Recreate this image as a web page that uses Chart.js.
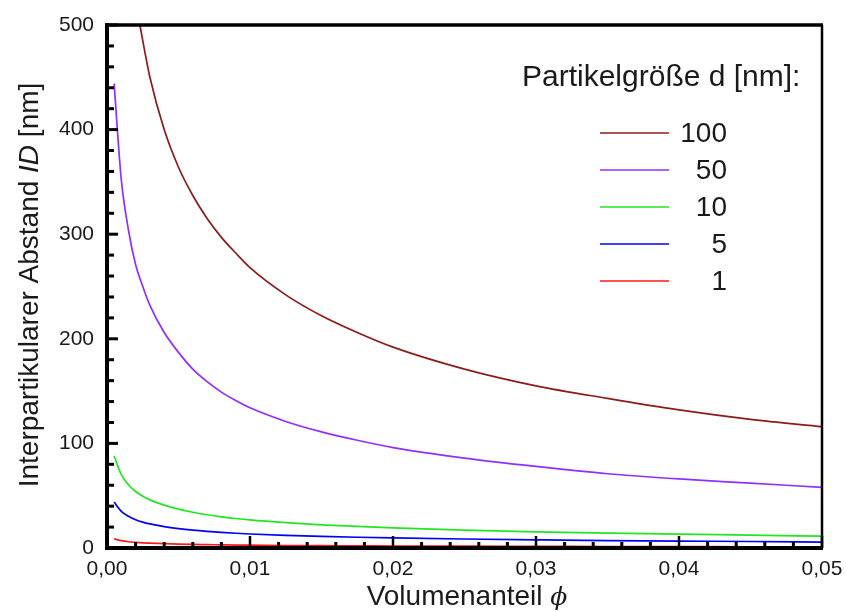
<!DOCTYPE html>
<html>
<head>
<meta charset="utf-8">
<script src="https://cdn.jsdelivr.net/npm/chart.js@4"></script>
<style>
    html, body {margin: 0; padding: 0; background: #fff;}
    #wrap {width: 846px; height: 612px;}
</style>
</head>
<body>
<div id="wrap"><canvas id="c"></canvas></div>
<script>
// volume fraction (x) and interparticle distance ID [nm]
var phi = [0.0005, 0.00075, 0.001, 0.0015, 0.002, 0.0025, 0.003, 0.004, 0.005, 0.006, 0.007, 0.008, 0.009,
    0.01, 0.0125, 0.015, 0.0175, 0.02, 0.025, 0.03, 0.035, 0.04, 0.045, 0.05];
var phi100 = [0.0023, 0.0025, 0.003, 0.004, 0.005, 0.006, 0.007, 0.008, 0.009,
    0.01, 0.0125, 0.015, 0.0175, 0.02, 0.025, 0.03, 0.035, 0.04, 0.045, 0.05];
var id100 = [500, 485, 450, 400, 364, 337, 315, 297, 282, 268, 242, 222, 206, 192, 171, 155, 143, 132, 123, 116];
var id50 = [444, 395, 352, 304, 271, 250, 232, 206, 187, 171, 159, 149, 141, 134, 121, 111, 103, 96, 86, 78, 71, 66, 62, 58];
var id10 = [88, 78.5, 70.2, 60.5, 54, 49.5, 46, 41, 37.2, 34.2, 31.8, 29.8, 28.2, 26.8, 24.2, 22.2, 20.6, 19.2, 17.1, 15.5, 14.3, 13.2, 12.3, 11.3];
var id5 = [44, 39.2, 35.1, 30.3, 27, 24.7, 23, 20.5, 18.6, 17.1, 15.9, 14.9, 14.1, 13.4, 12.1, 11.1, 10.3, 9.6, 8.6, 7.8, 7.1, 6.6, 6.2, 5.6];
var id1 = [8.8, 7.8, 7.0, 6.0, 5.4, 4.9, 4.6, 4.1, 3.7, 3.4, 3.2, 3.0, 2.8, 2.7, 2.4, 2.2, 2.1, 1.9, 1.7, 1.6, 1.4, 1.3, 1.2, 1.2];

var sizeLabels = ['100', '50', '10', '5', '1'];
var sizeColors = ['#8b1c1c', '#9030ff', '#22e622', '#0000ff', '#ff1a1a'];
var xTicks = [0, 0.01, 0.02, 0.03, 0.04, 0.05];
var yTicks = [0, 100, 200, 300, 400, 500];

var FONT = '"Liberation Sans", Arial, sans-serif';

function toPoints(xs, ys) {
    return ys.map(function (y, i) {
        return {x: xs[i], y: y};
    });
}

var seriesData = [toPoints(phi100, id100), toPoints(phi, id50), toPoints(phi, id10), toPoints(phi, id5), toPoints(phi, id1)];

var datasets = seriesData.map(function (pts, i) {
    return {
        label: sizeLabels[i],
        data: pts,
        showLine: true,
        borderColor: sizeColors[i],
        backgroundColor: sizeColors[i],
        borderWidth: 1.7,
        pointRadius: 0,
        cubicInterpolationMode: 'monotone'
    };
});

// frame, inward ticks, axis titles and the legend block
var decorPlugin = {
    id: 'decor',
    afterDatasetsDraw: function (chart) {
        var ctx = chart.ctx;
        var a = chart.chartArea;
        var xs = chart.scales.x, ys = chart.scales.y;
        ctx.save();
        ctx.strokeStyle = '#000';
        ctx.lineCap = 'butt';

        // minor / major ticks on the y axis
        var v, p;
        for (v = 0; v <= 500; v += 20) {
            p = ys.getPixelForValue(v);
            ctx.lineWidth = 3;
            ctx.beginPath();
            ctx.moveTo(a.left, p);
            ctx.lineTo(a.left + (v % 100 === 0 ? 11 : 7), p);
            ctx.stroke();
        }
        // ticks on the x axis
        for (var k = 0; k <= 25; k++) {
            p = xs.getPixelForValue(k * 0.002);
            var major = k % 5 === 0;
            ctx.lineWidth = major ? 2.5 : 3;
            ctx.beginPath();
            ctx.moveTo(p, a.bottom);
            ctx.lineTo(p, a.bottom - (major ? 12 : 6));
            ctx.stroke();
        }

        // frame
        ctx.lineWidth = 4;
        ctx.beginPath();
        ctx.moveTo(a.left, a.top - 2);
        ctx.lineTo(a.left, a.bottom);
        ctx.moveTo(a.left - 2, a.bottom);
        ctx.lineTo(a.right + 1, a.bottom);
        ctx.stroke();
        ctx.lineWidth = 3.5;
        ctx.beginPath();
        ctx.moveTo(a.left, a.top);
        ctx.lineTo(a.right + 1, a.top);
        ctx.stroke();
        ctx.lineWidth = 2.5;
        ctx.beginPath();
        ctx.moveTo(a.right, a.top);
        ctx.lineTo(a.right, a.bottom);
        ctx.stroke();

        ctx.fillStyle = '#1a1a1a';
        ctx.textBaseline = 'alphabetic';

        // y axis title, italic ID
        var yParts = [['Interpartikularer Abstand ', 'normal'], ['ID', 'italic'], [' [nm]', 'normal']];
        ctx.save();
        ctx.translate(38, 285);
        ctx.rotate(-Math.PI / 2);
        var total = 0;
        yParts.forEach(function (pt) {
            ctx.font = pt[1] + ' 28px ' + FONT;
            total += ctx.measureText(pt[0]).width;
        });
        var cx = -total / 2;
        ctx.textAlign = 'left';
        yParts.forEach(function (pt) {
            ctx.font = pt[1] + ' 28px ' + FONT;
            ctx.fillText(pt[0], cx, 0);
            cx += ctx.measureText(pt[0]).width;
        });
        ctx.restore();

        // x axis title, italic phi
        ctx.font = '28px ' + FONT;
        var w1 = ctx.measureText('Volumenanteil ').width;
        ctx.font = 'italic 25px "DejaVu Serif", serif';
        var w2 = ctx.measureText('\u03D5').width;
        var sx = 467 - (w1 + w2) / 2;
        ctx.textAlign = 'left';
        ctx.font = '28px ' + FONT;
        ctx.fillText('Volumenanteil ', sx, 605);
        ctx.font = 'italic 25px "DejaVu Serif", serif';
        ctx.fillText('\u03D5', sx + w1, 605);

        // legend
        ctx.font = '30px ' + FONT;
        ctx.fillText('Partikelgr\u00F6\u00DFe d [nm]:', 522, 86);
        ctx.font = '28px ' + FONT;
        ctx.textAlign = 'right';
        ctx.textBaseline = 'middle';
        chart.data.datasets.forEach(function (ds, i) {
            var y = 133 + i * 37;
            ctx.strokeStyle = ds.borderColor;
            ctx.lineWidth = 1.7;
            ctx.beginPath();
            ctx.moveTo(600, y);
            ctx.lineTo(669, y);
            ctx.stroke();
            ctx.fillText(ds.label, 727, y + 1);
        });
        ctx.restore();
    }
};

new Chart(document.getElementById('c'), {
    type: 'scatter',
    data: {datasets: datasets},
    options: {
        responsive: true,
        maintainAspectRatio: false,
        animation: false,
        layout: {padding: {top: 25, right: 24, left: 0, bottom: 0}},
        plugins: {legend: {display: false}, tooltip: {enabled: false}},
        scales: {
            x: {
                type: 'linear', min: 0, max: 0.05,
                afterBuildTicks: function (s) {
                    s.ticks = xTicks.map(function (v) { return {value: v}; });
                },
                afterFit: function (s) {
                    s.height = 64;
                    s.paddingLeft = 0;
                    s.paddingRight = 0;
                },
                grid: {display: false, drawTicks: false},
                border: {display: false},
                ticks: {
                    maxRotation: 0, autoSkip: false, padding: 9, color: '#1a1a1a',
                    font: {size: 21, family: FONT},
                    callback: function (v) { return v.toFixed(2).replace('.', ','); }
                }
            },
            y: {
                min: 0, max: 500,
                afterBuildTicks: function (s) {
                    s.ticks = yTicks.map(function (v) { return {value: v}; });
                },
                afterFit: function (s) {
                    s.width = 107;
                    s.paddingTop = 0;
                    s.paddingBottom = 0;
                },
                grid: {display: false, drawTicks: false},
                border: {display: false},
                ticks: {padding: 13, color: '#1a1a1a', font: {size: 21, family: FONT}}
            }
        }
    },
    plugins: [decorPlugin]
});
</script>
</body>
</html>
